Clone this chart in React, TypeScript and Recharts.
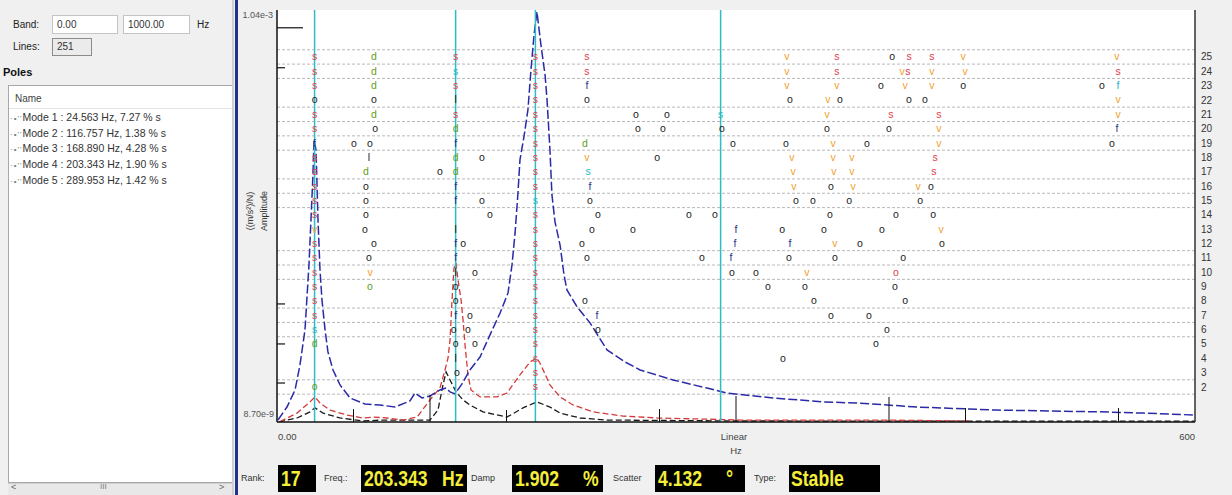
import React from "react";
import { ComposedChart, Line, Scatter, XAxis, YAxis, ReferenceLine, CartesianGrid } from "recharts";

type P = [number, number];

// ---- FRF curves: [frequency Hz, amplitude (m/s²)/N] ----
const FRF_BLUE: P[] = [
  [0.65, 9.2e-9], [6.5, 1.33e-8], [11.8, 2.16e-8], [15.0, 4.39e-8], [18.3, 1.19e-7], [20.9, 7.51e-7],
  [22.2, 2.69e-6], [23.5, 9.66e-6], [24.2, 2.61e-5], [25.5, 1.96e-5], [26.8, 2.69e-6], [28.1, 6.51e-7],
  [29.4, 2.78e-7], [31.4, 1.19e-7], [33.3, 6.35e-8], [36.6, 3.81e-8], [41.2, 2.49e-8], [47.7, 1.72e-8],
  [57.5, 1.45e-8], [67.3, 1.41e-8], [77.1, 1.33e-8], [86.9, 1.58e-8], [90.2, 1.98e-8], [94.8, 1.72e-8],
  [100.0, 1.82e-8], [106.5, 2.16e-8], [110.5, 2.28e-8], [113.1, 2.04e-8], [116.3, 1.93e-8], [120.9, 2.56e-8],
  [126.1, 3.81e-8], [132.7, 5.5e-8], [139.2, 1.03e-7], [145.8, 1.92e-7], [151.0, 3.39e-7], [153.6, 7.51e-7],
  [155.6, 1.86e-6], [157.5, 5.8e-6], [158.8, 1.48e-5], [161.4, 2.84e-5], [164.0, 6.12e-5], [166.0, 1.9e-4],
  [168.0, 5.14e-4], [169.9, 9.88e-4], [172.5, 3.87e-4], [175.2, 1.65e-4], [176.5, 8.12e-5], [178.4, 1.96e-5],
  [179.7, 5.47e-6], [181.7, 2.54e-6], [185.0, 1.32e-6], [187.6, 5.65e-7], [189.5, 3.69e-7], [196.1, 2.28e-7],
  [204.6, 1.45e-7], [215.7, 6.72e-8], [227.5, 4.78e-8], [237.3, 3.81e-8], [258.8, 2.87e-8], [281.0, 2.28e-8],
  [294.1, 1.98e-8], [324.2, 1.72e-8], [356.9, 1.54e-8], [379.1, 1.49e-8], [398.7, 1.41e-8], [418.3, 1.33e-8],
  [451.0, 1.26e-8], [470.6, 1.22e-8], [537.9, 1.16e-8], [566.0, 1.12e-8], [600.0, 1.06e-8],
];
const FRF_RED: P[] = [
  [2.0, 8.8e-9], [13.1, 1.12e-8], [21.6, 1.54e-8], [24.8, 1.77e-8], [28.1, 1.49e-8], [34.6, 1.22e-8],
  [45.8, 1.06e-8], [56.2, 9.75e-9], [62.7, 1.0e-8], [71.9, 9.75e-9], [82.4, 9.2e-9], [91.5, 1.0e-8],
  [100.0, 1.63e-8], [106.5, 2.28e-8], [109.8, 3.81e-8], [111.8, 5.35e-8], [113.1, 8.93e-8], [114.4, 2.78e-7],
  [115.7, 6.89e-7], [117.0, 7.94e-7], [118.3, 4.9e-7], [120.3, 2.78e-7], [121.6, 1.57e-7], [122.9, 7.74e-8],
  [124.8, 3.31e-8], [126.8, 2.16e-8], [132.7, 1.77e-8], [143.8, 1.77e-8], [150.3, 1.98e-8], [158.8, 3.31e-8],
  [165.4, 4.78e-8], [169.9, 5.35e-8], [172.5, 4.39e-8], [178.4, 2.49e-8], [185.0, 1.77e-8], [193.5, 1.41e-8],
  [206.5, 1.16e-8], [226.1, 1.03e-8], [248.4, 9.75e-9], [276.5, 9.47e-9], [302.6, 9.2e-9], [394.1, 9.2e-9],
  [452.9, 8.95e-9],
];
const FRF_BLACK: P[] = [
  [1.3, 8.75e-9], [13.1, 9.75e-9], [21.6, 1.16e-8], [24.8, 1.3e-8], [30.1, 1.12e-8], [41.2, 9.75e-9],
  [56.2, 8.95e-9], [69.3, 9.2e-9], [100.0, 9.2e-9], [105.2, 1.22e-8], [108.5, 2.49e-8], [110.5, 3.6e-8],
  [113.1, 2.87e-8], [117.0, 2.04e-8], [121.6, 1.63e-8], [126.1, 1.41e-8], [134.6, 1.16e-8], [150.3, 1.0e-8],
  [160.8, 1.3e-8], [169.9, 1.54e-8], [178.4, 1.33e-8], [185.0, 1.12e-8], [198.0, 9.75e-9], [215.7, 9.2e-9],
  [300.0, 8.95e-9], [600.0, 8.9e-9],
];

// ---- modes / axes ----
const MODE_FREQS = [24.563, 116.757, 168.89, 289.953];
const MODE_LIST = [
  "Mode 1 : 24.563 Hz, 7.27 % s",
  "Mode 2 : 116.757 Hz, 1.38 % s",
  "Mode 3 : 168.890 Hz, 4.28 % s",
  "Mode 4 : 203.343 Hz, 1.90 % s",
  "Mode 5 : 289.953 Hz, 1.42 % s",
];
const RANK_TICKS = [25, 24, 23, 22, 21, 20, 19, 18, 17, 16, 15, 14, 13, 12, 11, 10, 9, 8, 7, 6, 5, 4, 3, 2];
const RANK_GRID = [25.5, 24.5, 23.5, 21.5, 20.5, 19.5, 18.5, 16.5, 15.5, 14.5, 11.5, 10.5, 9.5, 7.5, 6.5, 5.5, 2.5, 1.5];
const FREQ_TICKS = [0, 50, 100, 150, 250, 300, 400, 450, 550, 600];
const AMP_TICKS = [8.7e-9, 2.63e-8, 7.97e-8, 2.48e-7, 2.02e-4, 6.28e-4, 1.04e-3];

// ---- stabilisation symbols: [frequency Hz, model order] ----
const POLES_S: P[] = [
  [24.56, 25], [24.56, 24], [24.56, 23], [24.56, 21], [24.56, 20], [24.56, 18], [24.56, 17], [24.56, 16],
  [24.56, 15], [24.56, 14], [24.56, 12], [24.56, 11], [24.56, 10], [24.56, 9], [24.56, 8], [24.56, 7],
  [116.76, 25], [116.76, 23], [116.76, 21],
  [168.89, 25], [168.89, 24], [168.89, 23], [168.89, 22], [168.89, 21], [168.89, 20], [168.89, 19], [168.89, 18],
  [168.89, 17], [168.89, 16], [168.89, 14], [168.89, 13], [168.89, 12], [168.89, 11], [168.89, 10], [168.89, 9],
  [168.89, 8], [168.89, 7], [168.89, 6], [168.89, 5], [168.89, 4], [168.89, 3], [168.89, 2],
  [202.6, 25], [202.6, 24], [366.0, 25], [366.0, 24], [413.1, 25], [428.1, 25], [412.4, 24], [549.7, 24],
  [401.3, 21], [432.6, 21], [430.1, 18], [429.4, 17],
];
const POLES_S_SEL: P[] = [[116.76, 24], [24.56, 6], [168.89, 15], [203.3, 17], [289.95, 21]];
const POLES_D: P[] = [
  [63.4, 25], [63.4, 24], [63.4, 23], [63.4, 21], [58.2, 17], [116.76, 20], [116.76, 18], [116.76, 17],
  [201.3, 19], [24.56, 5],
];
const POLES_F: P[] = [
  [24.56, 19], [116.76, 19], [116.76, 16], [116.76, 15], [116.76, 12], [116.76, 11], [116.76, 7],
  [202.6, 23], [204.6, 16], [209.2, 7], [300.0, 13], [299.3, 12], [296.7, 11], [335.3, 12], [549.0, 20],
];
const POLES_F_SEL: P[] = [[549.7, 23]];
const POLES_L: P[] = [[116.76, 22], [60.1, 18], [116.76, 13], [116.76, 10], [116.76, 4]];
const POLES_V: P[] = [
  [24.56, 13], [60.8, 10], [202.6, 18], [333.3, 25], [333.3, 24], [333.3, 23], [448.4, 25], [449.7, 24],
  [408.5, 24], [428.1, 24], [410.5, 23], [428.1, 23], [366.0, 23], [360.1, 22], [359.5, 21], [432.6, 20],
  [363.4, 19], [432.6, 19], [336.6, 18], [363.4, 18], [375.8, 18], [337.3, 17], [364.0, 17], [375.8, 17],
  [337.9, 16], [376.5, 16], [419.0, 16], [434.0, 13], [364.7, 12], [346.4, 10], [549.0, 25], [549.7, 22],
  [549.7, 21],
];
const POLES_O: P[] = [
  [24.56, 22], [63.4, 22], [64.1, 20], [50.3, 19], [60.8, 19], [58.2, 16], [58.2, 15], [58.2, 14], [57.5, 13],
  [63.4, 12], [60.1, 11],
  [106.5, 17], [134.0, 18], [134.0, 15], [139.2, 14], [121.6, 12], [129.4, 10], [116.76, 9], [116.76, 8],
  [126.1, 7], [115.5, 6], [124.8, 6], [116.76, 5], [129.4, 5], [117.6, 3],
  [202.6, 22], [204.6, 15], [209.8, 14], [205.9, 13], [199.3, 12], [202.6, 11], [201.3, 8], [209.8, 6],
  [234.6, 21], [254.9, 21], [235.9, 20], [252.3, 20], [290.8, 20], [298.0, 19], [332.7, 19], [248.4, 18],
  [269.3, 14], [286.3, 14], [232.7, 13], [277.8, 11], [297.4, 10], [313.1, 10], [320.9, 9], [345.1, 9],
  [351.0, 8], [330.7, 4],
  [402.0, 25], [394.8, 23], [448.4, 23], [539.2, 23], [335.3, 22], [368.0, 22], [413.1, 22], [423.5, 22],
  [359.5, 20], [400.0, 20], [385.6, 19], [545.7, 19], [362.1, 16], [427.4, 16], [339.2, 15], [350.3, 15],
  [373.9, 15], [420.3, 15], [361.4, 14], [404.6, 14], [428.8, 14], [330.1, 13], [357.5, 13], [395.4, 13],
  [381.0, 12], [434.6, 12], [334.6, 11], [364.7, 11], [409.2, 11], [403.9, 9], [410.5, 8], [362.1, 7],
  [386.9, 7], [398.7, 6], [391.5, 5],
];
const POLES_O_GREEN: P[] = [[60.8, 9], [24.56, 2]];
const POLES_O_RED: P[] = [[404.6, 10]];

// ---- status bar ----
const STATUS = { rank: "17", freq: "203.343", damp: "1.902", scatter: "4.132", type: "Stable" };

const UI_FONT = "'Liberation Sans', Arial, sans-serif";
const toXY = (arr: P[]) => arr.map(([f, a]) => ({ f, a }));
const toFR = (arr: P[]) => arr.map(([f, r]) => ({ f, r }));

const SYMBOLS = [
  { key: "s", data: POLES_S, ch: "s", color: "#e0404a" },
  { key: "d", data: POLES_D, ch: "d", color: "#5e9e22" },
  { key: "f", data: POLES_F, ch: "f", color: "#2a3586" },
  { key: "fs", data: POLES_F_SEL, ch: "f", color: "#28b0d0" },
  { key: "l", data: POLES_L, ch: "l", color: "#222" },
  { key: "v", data: POLES_V, ch: "v", color: "#f0a030" },
  { key: "o", data: POLES_O, ch: "o", color: "#1a1a1a" },
  { key: "og", data: POLES_O_GREEN, ch: "o", color: "#5e9e22" },
  { key: "or", data: POLES_O_RED, ch: "o", color: "#e0404a" },
  { key: "ss", data: POLES_S_SEL, ch: "s", color: "#22b8c4" },
];

const TICK_LEN: Record<number, number> = { 50: 13, 100: 27, 150: 12, 250: 13, 300: 26, 400: 25, 450: 14, 550: 14 };

const glyph = (ch: string, color: string) => (props: any) => {
  const { cx, cy } = props;
  if (cx == null || cy == null) return <g />;
  return (
    <text x={cx} y={cy} dy={3.5} textAnchor="middle" fontSize={10.5} fill={color} fontFamily={UI_FONT}>
      {ch}
    </text>
  );
};

const FreqTick = (props: any) => {
  const { x, y, payload } = props;
  const v = payload.value;
  const len = TICK_LEN[v] || 0;
  const txt = { fontSize: 9.5, fill: "#444", fontFamily: UI_FONT } as any;
  return (
    <g>
      {len > 0 && <line x1={x} x2={x} y1={y} y2={y - len} stroke="#111" strokeWidth={1} />}
      {v === 0 && <text x={x + 1} y={y + 18} textAnchor="start" {...txt}>0.00</text>}
      {v === 600 && <text x={x} y={y + 18} textAnchor="end" {...txt}>600</text>}
      {v === 300 && <text x={x - 2} y={y + 18} textAnchor="middle" {...txt}>Linear</text>}
      {v === 300 && <text x={x} y={y + 32} textAnchor="middle" {...txt}>Hz</text>}
    </g>
  );
};

const AmpTick = (props: any) => {
  const { x, y, payload } = props;
  const v = payload.value;
  const txt = { fontSize: 9, fill: "#555", fontFamily: UI_FONT } as any;
  if (v === AMP_TICKS[AMP_TICKS.length - 1]) return <text x={x - 4} y={y + 8} textAnchor="end" {...txt}>1.04e-3</text>;
  if (v === AMP_TICKS[0]) return <text x={x - 3} y={y - 5} textAnchor="end" {...txt}>8.70e-9</text>;
  const len = v === 6.28e-4 ? 26 : 8;
  return <line x1={x} x2={x + len} y1={y} y2={y} stroke="#111" strokeWidth={1.2} />;
};

const abs = (left: number, top: number, extra: any = {}) => ({ position: "absolute", left, top, ...extra }) as any;
const inputBox = (left: number, top: number, w: number, h: number) =>
  abs(left, top, {
    width: w, height: h, background: "#fff", border: "1px solid #c4c4c4", boxSizing: "border-box",
    fontSize: 10, lineHeight: `${h - 2}px`, paddingLeft: 4, color: "#333",
  });

const LeftPanel = () => (
  <div style={abs(0, 0, { width: 232, height: 495, fontSize: 10, color: "#222" })}>
    <div style={abs(13, 19)}>Band:</div>
    <div style={inputBox(52, 15, 66, 19)}>0.00</div>
    <div style={inputBox(123, 15, 67, 19)}>1000.00</div>
    <div style={abs(197, 19)}>Hz</div>
    <div style={abs(13, 41)}>Lines:</div>
    <div style={{ ...inputBox(52, 38, 40, 18), background: "#ebebeb", border: "1px solid #8c8c8c" }}>251</div>
    <div style={abs(3, 66, { fontWeight: "bold", fontSize: 11, color: "#111" })}>Poles</div>
    <div style={abs(8, 85, { width: 226, height: 398, background: "#fff", border: "1px solid #a8a8a8", boxSizing: "border-box" })}>
      <div style={abs(0, 0, { width: 224, height: 22, borderBottom: "1px solid #e4e4e4" })}>
        <div style={abs(6, 7, { fontSize: 10, color: "#444" })}>Name</div>
      </div>
      {MODE_LIST.map((m, i) => (
        <div key={m} style={abs(1, 25 + i * 15.7, { whiteSpace: "nowrap", fontSize: 10.5, color: "#333" })}>
          <span style={{ fontSize: 8, color: "#777", letterSpacing: 1 }}>·•''</span>
          {m}
        </div>
      ))}
    </div>
    <div style={abs(8, 483, { width: 226, height: 12, background: "#e8e8e8", borderTop: "1px solid #cfcfcf", boxSizing: "border-box" })}>
      <div style={abs(3, -2, { fontSize: 9, color: "#666" })}>&lt;</div>
      <div style={abs(92, -2, { fontSize: 8, color: "#777" })}>III</div>
      <div style={abs(211, -2, { fontSize: 9, color: "#666" })}>&gt;</div>
    </div>
  </div>
);

const StatusBar = () => {
  const lab = (left: number, t: string) => (
    <div style={abs(left, 473, { fontSize: 9, color: "#333" })}>{t}</div>
  );
  const boxS = (left: number, w: number) => abs(left, 465, { width: w, height: 27, background: "#000", overflow: "hidden" });
  const val = {
    fontFamily: UI_FONT, fontWeight: "bold", fontSize: 22, color: "#f4ee3a", lineHeight: "27px",
    transform: "scaleX(0.8)", transformOrigin: "left center", whiteSpace: "nowrap",
  } as any;
  return (
    <>
      {lab(241, "Rank:")}
      <div style={boxS(278, 38)}><div style={abs(3, 0, val)}>{STATUS.rank}</div></div>
      {lab(324, "Freq.:")}
      <div style={boxS(361, 106)}>
        <div style={abs(3, 0, val)}>{STATUS.freq}</div>
        <div style={abs(81, 0, val)}>Hz</div>
      </div>
      {lab(471, "Damp")}
      <div style={boxS(512, 91)}>
        <div style={abs(3, 0, val)}>{STATUS.damp}</div>
        <div style={abs(71, 0, val)}>%</div>
      </div>
      {lab(613, "Scatter")}
      <div style={boxS(655, 90)}>
        <div style={abs(3, 0, val)}>{STATUS.scatter}</div>
        <div style={abs(71, 0, val)}>°</div>
      </div>
      {lab(754, "Type:")}
      <div style={boxS(789, 91)}><div style={abs(2, 0, val)}>{STATUS.type}</div></div>
    </>
  );
};

const YTitle = () => (
  <svg style={abs(238, 0)} width={39} height={495}>
    <text transform="translate(15,211) rotate(-90)" textAnchor="middle" fontSize={9} fill="#333" fontFamily={UI_FONT}>
      ((m/s²)/N)
    </text>
    <text transform="translate(29,211) rotate(-90)" textAnchor="middle" fontSize={9} fill="#333" fontFamily={UI_FONT}>
      Amplitude
    </text>
  </svg>
);

export default function App() {
  return (
    <div style={abs(0, 0, { width: 1232, height: 495, background: "#f0f0f0", overflow: "hidden", fontFamily: UI_FONT })}>
      <LeftPanel />
      <div style={abs(232, 0, { width: 2, height: 495, background: "#cfcfcf" })} />
      <div style={abs(235, 0, { width: 3, height: 495, background: "#22338a" })} />
      <div style={abs(238, 0)}>
        <ComposedChart width={994} height={495} margin={{ top: 10, right: 0, bottom: 0, left: 0 }}>
          <CartesianGrid fill="#ffffff" horizontal={false} vertical={false} />
          <XAxis
            dataKey="f" type="number" domain={[0, 600]} ticks={FREQ_TICKS} interval={0} allowDataOverflow
            height={73} tickLine={false} tickSize={0} tickMargin={0} axisLine={{ stroke: "#111", strokeWidth: 1.5 }}
            tick={(p: any) => <FreqTick {...p} />}
          />
          <YAxis
            type="number" scale="log" domain={[8.7e-9, 1.04e-3]} ticks={AMP_TICKS} interval={0} allowDataOverflow
            width={39} tickLine={false} tickSize={0} tickMargin={0} axisLine={{ stroke: "#111", strokeWidth: 1.5 }}
            tick={(p: any) => <AmpTick {...p} />}
          />
          <YAxis
            yAxisId="rank" orientation="right" type="number" dataKey="r" domain={[-0.44, 28.27]} ticks={RANK_TICKS}
            interval={0} allowDataOverflow width={37} tickLine={false} tickSize={0} tickMargin={6}
            axisLine={{ stroke: "#333", strokeWidth: 1.5 }} tick={{ fontSize: 10, fill: "#333", fontFamily: UI_FONT }}
          />
          {RANK_GRID.map((r) => (
            <ReferenceLine key={`g${r}`} y={r} yAxisId="rank" stroke="#b8b8b8" strokeDasharray="3 2" />
          ))}
          <Line data={toXY(FRF_BLACK)} dataKey="a" stroke="#1a1a1a" strokeWidth={1.3} strokeDasharray="6 3" dot={false} type="linear" isAnimationActive={false} />
          <Line data={toXY(FRF_RED)} dataKey="a" stroke="#d43a3a" strokeWidth={1.3} strokeDasharray="6 3" dot={false} type="linear" isAnimationActive={false} />
          <Line data={toXY(FRF_BLUE)} dataKey="a" stroke="#2a2aa8" strokeWidth={1.5} strokeDasharray="9 3" dot={false} type="linear" isAnimationActive={false} />
          {SYMBOLS.map((s) => (
            <Scatter key={s.key} yAxisId="rank" data={toFR(s.data)} dataKey="r" shape={glyph(s.ch, s.color)} isAnimationActive={false} />
          ))}
          {MODE_FREQS.map((f) => (
            <ReferenceLine key={`m${f}`} x={f} stroke="#2dbdc6" strokeWidth={1.5} />
          ))}
        </ComposedChart>
      </div>
      <YTitle />
      <StatusBar />
    </div>
  );
}
